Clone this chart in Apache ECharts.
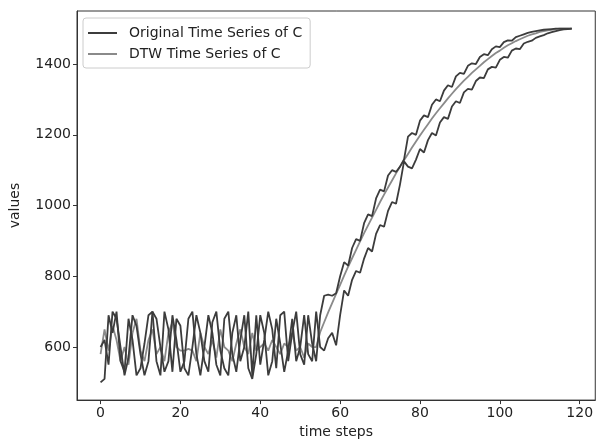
<!DOCTYPE html>
<html>
<head>
<meta charset="utf-8">
<script src="https://cdn.jsdelivr.net/npm/echarts@6/dist/echarts.min.js"></script>
<style>
html, body { margin: 0; padding: 0; background: #fff; }
#chart { width: 596px; height: 444px; }
</style>
</head>
<body>
<div id="chart"></div>
<script>
var xTicks = [0, 20, 40, 60, 80, 100, 120];
var yTicks = [600, 800, 1000, 1200, 1400];

// original series of C, steps 0..118
var original = [
    500, 510, 690, 640, 700, 560, 530, 680, 620, 520,
    540, 610, 690, 700, 560, 520, 700, 650, 530, 680,
    660, 540, 520, 600, 690, 640, 560, 530, 670, 700,
    590, 540, 520, 640, 690, 560, 600, 700, 520, 690,
    550, 620, 700, 650, 540, 690, 700, 560, 640, 700,
    580, 550, 690, 610, 560,
    690, 745, 748, 745, 752, 800, 840, 830, 880, 905,
    900, 950, 975, 970, 1020, 1045, 1040, 1085, 1100, 1095,
    1110, 1130, 1195, 1205, 1200, 1240, 1255, 1250, 1285, 1300,
    1295, 1325, 1340, 1335, 1365, 1375, 1372, 1395, 1402, 1400,
    1420, 1428, 1425, 1442, 1450, 1448, 1462, 1467, 1466, 1476,
    1480, 1484, 1488, 1491, 1493, 1495, 1497, 1498, 1499, 1500,
    1500, 1500, 1500, 1500
];

// second dark trace (no legend entry)
var lagged = [
    600, 620, 550, 700, 680, 600, 520, 570, 690, 660,
    580, 520, 560, 700, 680, 600, 530, 560, 690, 620,
    530, 560, 680, 700, 580, 520, 600, 690, 640, 550,
    520, 680, 700, 580, 530, 620, 690, 540, 510, 580,
    690, 640, 520, 560, 680, 610, 530, 590, 680, 560,
    600, 690, 580, 560, 700,
    600, 590, 625, 640, 605, 690, 760, 745, 790, 815,
    810, 850, 880, 870, 920, 945, 940, 985, 1010, 1005,
    1060, 1125, 1110, 1105, 1130, 1160, 1150, 1185, 1205, 1198,
    1235, 1250, 1245, 1280, 1295, 1290, 1320, 1330, 1328, 1352,
    1362, 1360, 1385, 1392, 1390, 1412, 1420, 1418, 1438, 1444,
    1442, 1458, 1463, 1466, 1474, 1478, 1482, 1487, 1490, 1493,
    1496, 1498, 1499, 1500
];

// DTW series of C
var dtw = [
    580, 650, 590, 660, 620, 560, 600, 550, 640, 680,
    590, 560, 620, 650, 580, 600, 560, 640, 670, 600,
    590, 590, 595, 590, 560, 640, 600, 580, 620, 570,
    650, 600, 590, 560, 610, 650, 600, 580, 640, 590,
    600, 610, 590, 620, 600, 580, 610, 600, 640, 590,
    600, 570, 610, 600, 600,
    642, 670, 698, 724, 750, 776, 802, 827, 851, 875,
    899, 922, 944, 966, 988, 1010, 1031, 1051, 1071, 1091,
    1110, 1128, 1146, 1164, 1181, 1198, 1214, 1230, 1246, 1261,
    1275, 1289, 1303, 1316, 1329, 1341, 1353, 1364, 1375, 1385,
    1395, 1405, 1414, 1423, 1431, 1438, 1446, 1453, 1459, 1465,
    1470, 1475, 1480, 1484, 1487, 1491, 1493, 1495, 1497, 1499,
    1500, 1500, 1500, 1500
];

function pairs(arr) {
    return arr.map(function (v, i) { return [i, v]; });
}

var darkColor = '#3c3c3c';
var lightColor = '#8a8a8a';
var font = 'DejaVu Sans';

var chart = echarts.init(document.getElementById('chart'));
var option = {
    animation: false,
    backgroundColor: '#fff',
    textStyle: { fontFamily: font },
    grid: {
        left: 75, right: -2, top: 11, bottom: 41,
        show: true, borderColor: '#333', borderWidth: 1
    },
    legend: {
        data: ['Original Time Series of C', 'DTW Time Series of C'],
        orient: 'vertical',
        left: 83, top: 18,
        padding: [8, 8, 7, 5],
        itemGap: 7,
        icon: 'rect',
        itemWidth: 29, itemHeight: 2,
        borderColor: '#cccccc', borderWidth: 1, borderRadius: 3,
        backgroundColor: 'rgba(255,255,255,0.8)',
        textStyle: { fontFamily: font, fontSize: 14, color: '#222', padding: [0, 0, 0, 7] }
    },
    xAxis: {
        type: 'value',
        min: -5.9, max: 123.9,
        name: 'time steps',
        nameLocation: 'middle',
        nameGap: 24,
        nameTextStyle: { fontFamily: font, fontSize: 14, color: '#222' },
        axisLine: { show: true, onZero: false, lineStyle: { color: '#333', width: 1 } },
        axisTick: { show: true, length: 4, lineStyle: { color: '#333' }, customValues: xTicks },
        axisLabel: { fontFamily: font, fontSize: 14, color: '#222', margin: 6, customValues: xTicks },
        splitLine: { show: false }
    },
    yAxis: {
        type: 'value',
        min: 450, max: 1550,
        name: 'values',
        nameLocation: 'middle',
        nameGap: 55,
        nameTextStyle: { fontFamily: font, fontSize: 14, color: '#222' },
        axisLine: { show: true, onZero: false, lineStyle: { color: '#333', width: 1 } },
        axisTick: { show: true, length: 4, lineStyle: { color: '#333' }, customValues: yTicks },
        axisLabel: {
            fontFamily: font, fontSize: 14, color: '#222', margin: 6, customValues: yTicks,
            formatter: function (v) { return String(v); }
        },
        splitLine: { show: false }
    },
    series: [
        {
            name: 'Original Time Series of C',
            type: 'line',
            data: pairs(original),
            symbol: 'none',
            lineStyle: { color: darkColor, width: 1.8 },
            itemStyle: { color: darkColor },
            z: 3
        },
        {
            name: 'DTW Time Series of C',
            type: 'line',
            data: pairs(dtw),
            symbol: 'none',
            lineStyle: { color: lightColor, width: 1.8 },
            itemStyle: { color: lightColor },
            z: 2
        },
        {
            name: 'lagged',
            type: 'line',
            data: pairs(lagged),
            symbol: 'none',
            lineStyle: { color: darkColor, width: 1.8 },
            itemStyle: { color: darkColor },
            z: 3
        }
    ]
};
chart.setOption(option);
</script>
</body>
</html>
